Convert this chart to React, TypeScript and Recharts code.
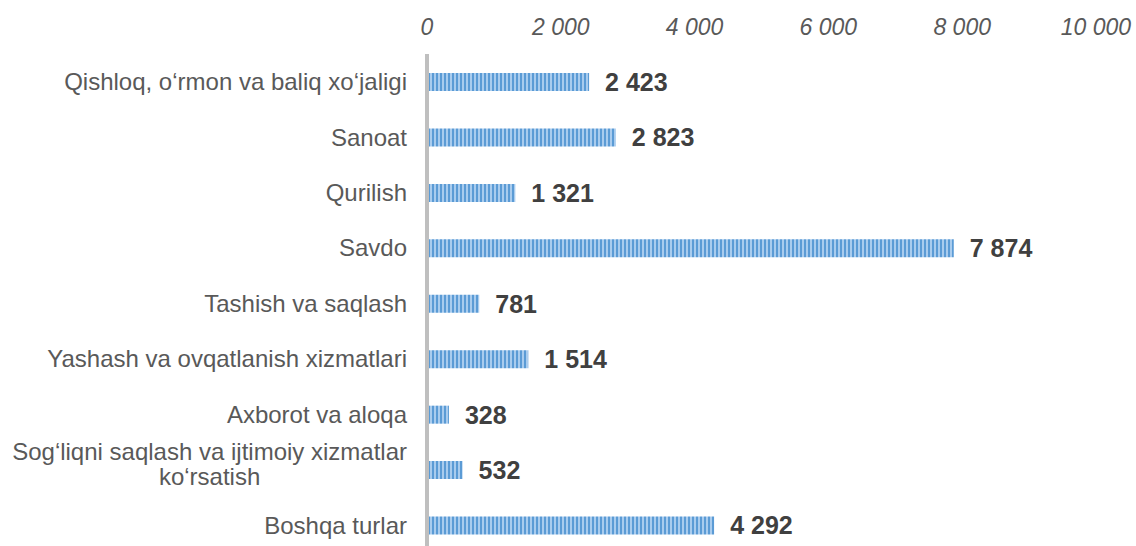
import { BarChart, Bar, XAxis, YAxis, LabelList } from "recharts";

const categories = [
  "Qishloq, o‘rmon va baliq xo‘jaligi",
  "Sanoat",
  "Qurilish",
  "Savdo",
  "Tashish va saqlash",
  "Yashash va ovqatlanish xizmatlari",
  "Axborot va aloqa",
  "Sog‘liqni saqlash va ijtimoiy xizmatlar\nko‘rsatish",
  "Boshqa turlar",
];

const values = [2423, 2823, 1321, 7874, 781, 1514, 328, 532, 4292];

const xTicks = [0, 2000, 4000, 6000, 8000, 10000];

const data = categories.map((name, i) => ({ name, value: values[i] }));

const FONT = '"Liberation Sans", Arial, sans-serif';
const LABEL_SIZE = 24;

// thousands with a space, like "2 423"
const fmt = (v: number | string) =>
  String(v).replace(/\B(?=(\d{3})+(?!\d))/g, " ");

function measure(text: string) {
  const ctx = document.createElement("canvas").getContext("2d");
  if (!ctx) return text.length * LABEL_SIZE * 0.5;
  ctx.font = `${LABEL_SIZE}px ${FONT}`;
  return ctx.measureText(text).width;
}

function CategoryTick(props: any) {
  const { x, y, payload } = props;
  const lines = String(payload.value).split("\n");
  if (lines.length === 1) {
    return (
      <text
        x={x}
        y={y + 8.4}
        textAnchor="end"
        fill="#595959"
        fontFamily={FONT}
        fontSize={LABEL_SIZE}
      >
        {lines[0]}
      </text>
    );
  }
  // lines centred on the first one, as in the source
  const mid = x - measure(lines[0]) / 2;
  return (
    <text fill="#595959" fontFamily={FONT} fontSize={LABEL_SIZE} textAnchor="middle">
      <tspan x={mid} y={y - 10}>
        {lines[0]}
      </tspan>
      <tspan x={mid} y={y + 15}>
        {lines[1]}
      </tspan>
    </text>
  );
}

export default function App() {
  return (
    <div
      style={{
        position: "absolute",
        left: 0,
        top: 0,
        width: 1136,
        height: 546,
        overflow: "hidden",
        background: "#fff",
      }}
    >
      <BarChart
        width={1136}
        height={553}
        data={data}
        layout="vertical"
        margin={{ top: 24, right: 40, bottom: 0, left: 0 }}
      >
        <defs>
          <pattern id="stripes" width="4" height="4" patternUnits="userSpaceOnUse">
            <rect width="4" height="4" fill="#a9ccee" />
            <rect width="2" height="4" fill="#5b9bd5" />
          </pattern>
        </defs>
        <XAxis
          type="number"
          orientation="top"
          domain={[0, 10000]}
          ticks={xTicks}
          tickFormatter={fmt}
          axisLine={false}
          tickLine={false}
          tickSize={0}
          tickMargin={19}
          height={30}
          tick={{
            fill: "#595959",
            fontSize: 23,
            fontStyle: "italic",
            fontFamily: FONT,
          }}
        />
        <YAxis
          type="category"
          dataKey="name"
          width={427}
          interval={0}
          axisLine={{ stroke: "#bfbfbf", strokeWidth: 4 }}
          tickLine={false}
          tickSize={0}
          tickMargin={20}
          tick={<CategoryTick />}
        />
        <Bar dataKey="value" fill="url(#stripes)" barSize={18} isAnimationActive={false}>
          <LabelList
            dataKey="value"
            position="right"
            offset={16}
            formatter={fmt}
            fill="#404040"
            fontSize={25}
            fontWeight="bold"
            fontFamily={FONT}
          />
        </Bar>
      </BarChart>
    </div>
  );
}
